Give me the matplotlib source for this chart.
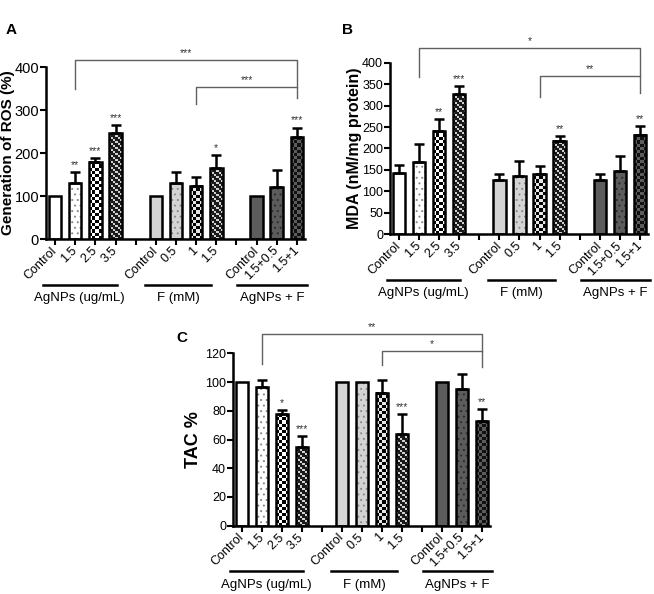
import matplotlib
matplotlib.use('Agg')
import matplotlib.pyplot as plt
import matplotlib.transforms as mtransforms
from matplotlib.colors import ListedColormap
import numpy as np

plt.rcParams['font.family'] = ['Liberation Sans', 'DejaVu Sans']
plt.rcParams['hatch.linewidth'] = 0.7

# x slots: 4 and 9 are empty gaps between groups
positions = [0, 1, 2, 3, 5, 6, 7, 8, 10, 11, 12]
tick_labels = ['Control', '1.5', '2.5', '3.5', '',
               'Control', '0.5', '1', '1.5', '',
               'Control', '1.5+0.5', '1.5+1']
group_names = ['AgNPs (ug/mL)', 'F (mM)', 'AgNPs + F']
group_spans = [(-0.6, 3.05), (4.45, 7.75), (9.05, 12.5)]

# A: ROS
ros_vals = [100, 131, 180, 246, 100, 131, 124, 165, 100, 120, 237]
ros_err = [0, 24, 8, 18, 0, 24, 20, 31, 0, 40, 22]
ros_stars = ['', '**', '***', '***', '', '', '', '*', '', '', '***']
# (x1, x2, y line, y left end, y right end, label)
ros_brackets = [(1, 12, 416, 349, 353, '***'), (7, 12, 353, 314, 328, '***')]

# B: MDA
mda_vals = [144, 169, 241, 326, 126, 136, 141, 218, 127, 147, 231]
mda_err = [18, 41, 28, 20, 14, 35, 19, 10, 14, 36, 22]
mda_stars = ['', '', '**', '***', '', '', '', '**', '', '', '**']
mda_brackets = [(1, 12, 435, 367, 369, '*'), (7, 12, 369, 319, 330, '**')]

# C: TAC
tac_vals = [100, 96.8, 77.7, 54.8, 100, 100, 92.6, 63.8, 100, 94.9, 72.9]
tac_err = [0, 4.4, 2.8, 7.8, 0, 0, 8.6, 13.9, 0, 10.4, 8.1]
tac_stars = ['', '', '*', '***', '', '', '', '***', '', '', '**']
tac_brackets = [(1, 12, 133.4, 112.6, 121.8, '**'), (7, 12, 121.8, 111.9, 110.3, '*')]

# fill style of each bar: (kind, base colour, pattern colour)
styles = [
    ('plain', 'white', None),
    ('dots', 'white', '#8a8a8a'),
    ('checker', 'white', 'black'),
    ('stripes', '#1a1a1a', '#d0d0d0'),
    ('plain', '#d4d4d4', None),
    ('dots', '#d4d4d4', '#8c8c8c'),
    ('checker', '#e6e6e6', 'black'),
    ('stripes', '#1a1a1a', '#d0d0d0'),
    ('plain', '#5c5c5c', None),
    ('dots', '#5c5c5c', '#2a2a2a'),
    ('checker', '#5c5c5c', '#111111'),
]

W = 0.62


def texture(kind, h_px, w_px):
    if kind == 'checker':
        nrow = max(1, int(round(h_px / 3.2)))
        return np.add.outer(np.arange(nrow), np.arange(4)) % 2
    nrow = max(1, int(round(h_px / 2)))
    ncol = max(1, int(round(w_px / 2)))
    return (np.add.outer(np.arange(nrow), np.arange(ncol)) % 3 == 0).astype(int)


def draw_panel(ax, vals, errs, stars, brackets, ymax, yticks, ylabel,
               ytick_size, ylabel_size, ylabel_x):
    ppu = ax.bbox.height / ymax
    ppx = ax.bbox.width / 12.85
    for x, v, (kind, fc, c2) in zip(positions, vals, styles):
        if kind == 'plain':
            ax.bar(x, v, W, color=fc, linewidth=0, zorder=2)
        elif kind == 'dots':
            ax.bar(x, v, W, color=fc, edgecolor=c2, linewidth=0, hatch='...', zorder=2)
        else:
            grid = texture(kind, v * ppu, W * ppx)
            ax.imshow(grid, extent=(x - W / 2, x + W / 2, 0, v), origin='lower',
                      cmap=ListedColormap([fc, c2]), aspect='auto',
                      interpolation='nearest', zorder=2)
    ax.bar(positions, vals, W, fill=False, edgecolor='black', linewidth=1.8, zorder=3)

    ex = [p for p, e in zip(positions, errs) if e > 0]
    ev = [v for v, e in zip(vals, errs) if e > 0]
    ee = [e for e in errs if e > 0]
    ax.errorbar(ex, ev, yerr=[np.zeros(len(ee)), ee], fmt='none', ecolor='black',
                elinewidth=1.8, capsize=3.5, capthick=1.8, zorder=4, clip_on=False)

    for p, v, e, s in zip(positions, vals, errs, stars):
        if s:
            ax.annotate(s, (p, v + e), xytext=(0, 1.5), textcoords='offset points',
                        ha='center', va='bottom', fontsize=7.5, color='#333333')

    for x1, x2, yl, y1, y2, lab in brackets:
        ax.plot([x1, x1, x2, x2], [y1, yl, yl, y2], color='#606060', lw=1,
                clip_on=False, zorder=1)
        ax.annotate(lab, ((x1 + x2) / 2, yl), xytext=(0, 1.5), textcoords='offset points',
                    ha='center', va='bottom', fontsize=7.5, color='#333333',
                    annotation_clip=False)

    ax.set_xlim(-0.45, 12.4)
    ax.set_ylim(0, ymax)
    ax.set_yticks(yticks)
    ax.set_xticks(range(13))
    ax.set_xticklabels(tick_labels, rotation=45, ha='right', va='center',
                       rotation_mode='anchor', fontsize=9)
    shift = mtransforms.ScaledTranslation(3 / 72, 0, ax.figure.dpi_scale_trans)
    for lab in ax.get_xticklabels():
        lab.set_transform(lab.get_transform() + shift)
    ax.tick_params(axis='y', labelsize=ytick_size, width=1.5, length=4, pad=1)
    ax.tick_params(axis='x', width=1.5, length=4, pad=3)
    for sp in ['top', 'right']:
        ax.spines[sp].set_visible(False)
    for sp in ['left', 'bottom']:
        ax.spines[sp].set_linewidth(1.8)
    ax.set_ylabel(ylabel, fontsize=ylabel_size, fontweight='bold')
    ax.yaxis.set_label_coords(ylabel_x, 0.5)

    trans = mtransforms.blended_transform_factory(ax.transData, ax.transAxes)
    for (g0, g1), name in zip(group_spans, group_names):
        ax.plot([g0, g1], [-0.265, -0.265], color='black', lw=1.8,
                transform=trans, clip_on=False)
        ax.text((g0 + g1) / 2, -0.345, name, transform=trans, ha='center',
                va='center', fontsize=9.5)


fig = plt.figure(figsize=(6.54, 5.94), dpi=100)
axA = fig.add_axes([0.0703, 0.5976, 0.396, 0.2896])
axB = fig.add_axes([0.5963, 0.6056, 0.3945, 0.2888])
axC = fig.add_axes([0.3563, 0.1150, 0.3930, 0.2902])

draw_panel(axA, ros_vals, ros_err, ros_stars, ros_brackets, 400,
           [0, 100, 200, 300, 400], 'Generation of ROS (%)', 10.5, 11, -0.118)
draw_panel(axB, mda_vals, mda_err, mda_stars, mda_brackets, 400,
           range(0, 401, 50), 'MDA (nM/mg protein)', 9, 11.5, -0.11)
draw_panel(axC, tac_vals, tac_err, tac_stars, tac_brackets, 120,
           range(0, 121, 20), 'TAC %', 9, 13, -0.122)

fig.text(0.017, 0.9495, 'A', fontsize=11, fontweight='bold', ha='center', va='center')
fig.text(0.532, 0.9495, 'B', fontsize=11, fontweight='bold', ha='center', va='center')
fig.text(0.278, 0.431, 'C', fontsize=11, fontweight='bold', ha='center', va='center')

fig.savefig('out.png', dpi=100)
